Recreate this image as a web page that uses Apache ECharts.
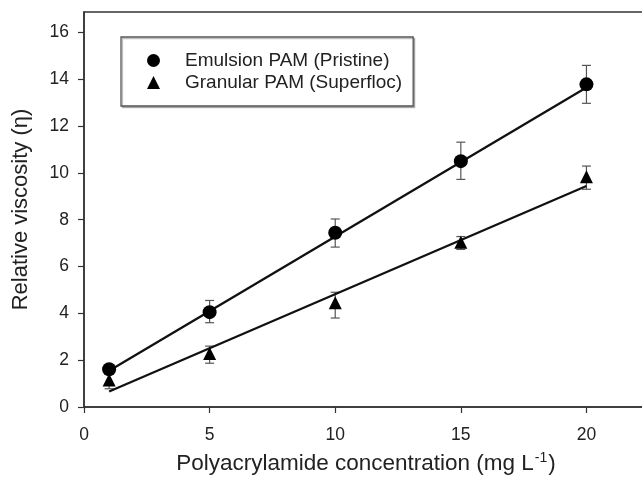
<!DOCTYPE html>
<html>
<head>
<meta charset="utf-8">
<script src="https://cdn.jsdelivr.net/npm/echarts@6/dist/echarts.min.js"></script>
<style>
html,body{margin:0;padding:0;background:#fff;}
#chart{width:642px;height:478px;}
</style>
</head>
<body>
<div id="chart"></div>
<script>
// ---- data ----
const concentrations = [1, 5, 10, 15, 20];
const emulsionMean = [1.61, 4.05, 7.44, 10.50, 13.78];
const emulsionLow  = [1.48, 3.60, 6.83, 9.72, 12.97];
const emulsionHigh = [1.74, 4.55, 8.03, 11.31, 14.59];
const granularMean = [1.15, 2.29, 4.45, 7.04, 9.83];
const granularLow  = [0.78, 1.87, 3.80, 6.73, 9.30];
const granularHigh = [1.45, 2.60, 4.90, 7.28, 10.29];
const emulsionFitX = [1, 20];
const emulsionFitY = [1.55, 13.65];
const granularFitX = [1, 20];
const granularFitY = [0.66, 9.44];
const xTicks = [0, 5, 10, 15, 20];
const yTicks = [0, 2, 4, 6, 8, 10, 12, 14, 16];
const seriesNames = ['Emulsion PAM (Pristine)', 'Granular PAM (Superfloc)'];

const pts = (xs, ys) => xs.map((x, i) => [x, ys[i]]);
const bars = (xs, lo, hi) => xs.map((x, i) => [x, lo[i], hi[i]]);

function errorBarRender(params, api) {
  const x = api.value(0);
  const lo = api.coord([x, api.value(1)]);
  const hi = api.coord([x, api.value(2)]);
  const hw = 4.5;
  const style = {stroke: '#555', lineWidth: 1.2, fill: null};
  return {
    type: 'group',
    children: [
      {type: 'line', shape: {x1: lo[0], y1: lo[1], x2: hi[0], y2: hi[1]}, style},
      {type: 'line', shape: {x1: lo[0] - hw, y1: lo[1], x2: lo[0] + hw, y2: lo[1]}, style},
      {type: 'line', shape: {x1: hi[0] - hw, y1: hi[1], x2: hi[0] + hw, y2: hi[1]}, style}
    ]
  };
}

const font = 'Liberation Sans, Arial, sans-serif';
const chart = echarts.init(document.getElementById('chart'), null, {renderer: 'canvas'});
chart.setOption({
  animation: false,
  backgroundColor: '#fff',
  textStyle: {fontFamily: font},
  grid: {left: 84, top: 12, right: -6, bottom: 71, show: true, borderColor: '#333', borderWidth: 1.5,
         containLabel: false, outerBoundsMode: 'none'},
  legend: {
    data: seriesNames,
    orient: 'vertical',
    left: 121, top: 37,
    itemWidth: 13, itemHeight: 13,
    itemGap: 3,
    padding: [14, 11, 14, 26],
    borderColor: '#555', borderWidth: 1.3,
    backgroundColor: '#fff',
    shadowColor: 'rgba(0,0,0,0.25)', shadowOffsetX: 1.5, shadowOffsetY: 1.5, shadowBlur: 0,
    textStyle: {fontFamily: font, fontSize: 19, color: '#222', lineHeight: 19, padding: [0, 0, 0, 20]}
  },
  xAxis: {
    type: 'value', min: 0, max: 22.45, interval: 5,
    axisLine: {show: true, lineStyle: {color: '#333', width: 1.5}},
    axisTick: {show: true, length: 6, customValues: xTicks, lineStyle: {color: '#333', width: 1.2}},
    axisLabel: {customValues: xTicks, margin: 19, fontSize: 17.5, color: '#222', fontFamily: font},
    splitLine: {show: false},
    name: 'Polyacrylamide concentration (mg L{sup|-1})',
    nameLocation: 'middle', nameGap: 44,
    nameTextStyle: {fontSize: 22.5, color: '#222', fontFamily: font,
      rich: {sup: {fontSize: 14, color: '#222', fontFamily: font, verticalAlign: 'top', padding: [0, 1, 11, 1]}}}
  },
  yAxis: {
    type: 'value', min: 0, max: 16.87, interval: 2,
    axisLine: {show: true, lineStyle: {color: '#333', width: 1.5}},
    axisTick: {show: true, length: 6, customValues: yTicks, lineStyle: {color: '#333', width: 1.2}},
    axisLabel: {customValues: yTicks, margin: 15, fontSize: 17.5, color: '#222', fontFamily: font},
    splitLine: {show: false},
    name: 'Relative viscosity (η)',
    nameLocation: 'middle', nameGap: 52, nameRotate: 90,
    nameTextStyle: {fontSize: 22, color: '#222', fontFamily: font}
  },
  series: [
    {type: 'line', name: 'fitE', data: pts(emulsionFitX, emulsionFitY), symbol: 'none',
     lineStyle: {color: '#111', width: 2.3}, z: 2},
    {type: 'line', name: 'fitG', data: pts(granularFitX, granularFitY), symbol: 'none',
     lineStyle: {color: '#111', width: 2.3}, z: 2},
    {type: 'custom', name: 'errE', data: bars(concentrations, emulsionLow, emulsionHigh),
     renderItem: errorBarRender, z: 1},
    {type: 'custom', name: 'errG', data: bars(concentrations, granularLow, granularHigh),
     renderItem: errorBarRender, z: 1},
    {type: 'scatter', name: seriesNames[0], data: pts(concentrations, emulsionMean),
     symbol: 'circle', symbolSize: 14, itemStyle: {color: '#000', opacity: 1}, z: 3},
    {type: 'scatter', name: seriesNames[1], data: pts(concentrations, granularMean),
     symbol: 'triangle', symbolSize: 13, itemStyle: {color: '#000', opacity: 1}, z: 3}
  ]
});
</script>
</body>
</html>
